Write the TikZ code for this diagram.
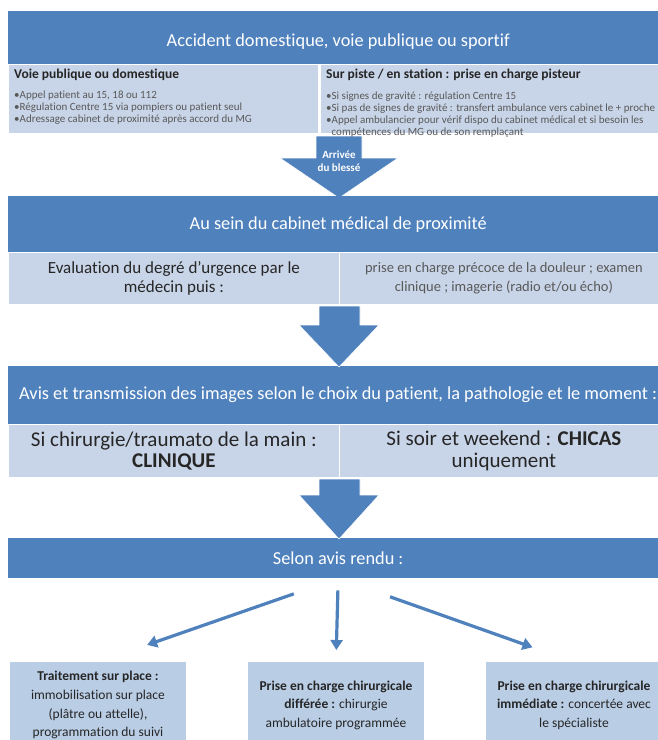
\documentclass[tikz,border=0pt]{standalone}
\usepackage{fontspec}
\setmainfont{Carlito}[Ligatures={TeX,NoCommon}]
\usetikzlibrary{positioning,arrows.meta}

\definecolor{barblue}{HTML}{4F81BD}
\definecolor{cellblue}{HTML}{C8D4E7}
\definecolor{boxblue}{HTML}{B9CDE5}
\definecolor{inkdark}{HTML}{262626}
\definecolor{inkgray}{HTML}{595959}

\tikzset{
  bar/.style={fill=barblue, text=white, anchor=north west, minimum width=660pt, inner sep=0pt, font=\fontsize{18.3}{22}\selectfont},
  cell/.style={fill=cellblue, draw=white, line width=0.8pt, anchor=north west, inner sep=0pt, align=center},
  resultbox/.style={fill=boxblue, minimum width=176pt, minimum height=86pt, anchor=north, inner sep=0pt, align=center, text=inkdark, font=\fontsize{13.5}{18.7}\selectfont},
  flow/.style={fill=barblue, draw=white, line width=0.6pt},
  link/.style={draw=barblue, line width=3.2pt, -{Triangle[width=12pt,length=10pt]}}
}

\begin{document}
\begin{tikzpicture}[x=1pt,y=-1pt]
\useasboundingbox (0,0) rectangle (657,740);

\node[bar, minimum height=53pt, text height=21pt, text depth=3pt] (accident) at (8,11) {Accident domestique, voie publique ou sportif};
\node[cell, minimum width=310pt, minimum height=69pt] (voie) at (8,64) {};
\node[cell, minimum width=348pt, minimum height=69pt] (piste) at (320,64) {};

\fill[flow] (316,136) -- (362,136) -- (362,158) -- (398,158) -- (339,198) -- (280,158) -- (316,158) -- cycle;
\node[text=white, align=center, font=\bfseries\fontsize{11}{12.5}\selectfont] (arrivee) at (339,161) {Arrivée\\du blessé};

\node[anchor=north west, inner sep=0pt, text=inkdark, font=\bfseries\fontsize{13.5}{15}\selectfont] (voiehead) at (14,69) {Voie publique ou domestique};
\node[below=10pt of voiehead.south west, anchor=north west, inner sep=0pt, align=left, text=inkgray, font=\fontsize{11}{12}\selectfont] (voielist) {\textbullet Appel patient au 15, 18 ou 112\\
\textbullet Régulation Centre 15 via pompiers ou patient seul\\
\textbullet Adressage cabinet de proximité après accord du MG};

\node[anchor=north west, inner sep=0pt, text=inkdark, font=\bfseries\fontsize{13.5}{15}\selectfont] (pistehead) at (326,69) {Sur piste / en station : prise en charge pisteur};
\node[below=10pt of pistehead.south west, anchor=north west, inner sep=0pt, align=left, text=inkgray, font=\fontsize{11}{12}\selectfont] (pistelist) {\textbullet Si signes de gravité : régulation Centre 15\\
\textbullet Si pas de signes de gravité : transfert ambulance vers cabinet le + proche\\
\textbullet Appel ambulancier pour vérif dispo du cabinet médical et si besoin les\\
\hphantom{\textbullet}compétences du MG ou de son remplaçant};

\node[bar, minimum height=56pt] (cabinet) at (8,196) {Au sein du cabinet médical de proximité};
\node[cell, minimum width=331pt, minimum height=52pt, text=inkdark, font=\fontsize{17}{18.5}\selectfont] (evaluation) at (8,252) {Evaluation du degré d'urgence par le\\médecin puis :};
\node[cell, minimum width=329pt, minimum height=52pt, text=inkgray, font=\fontsize{14.5}{18.5}\selectfont] (douleur) at (339,252) {prise en charge précoce de la douleur ; examen\\clinique ; imagerie (radio et/ou écho)};

\node[bar, minimum height=58pt] (avis) at (8,366) {Avis et transmission des images selon le choix du patient, la pathologie et le moment :};
\node[cell, minimum width=331pt, minimum height=53pt, text=inkdark, font=\fontsize{21}{21.5}\selectfont] (clinique) at (8,424) {Si chirurgie/traumato de la main :\\\textbf{CLINIQUE}};
\node[cell, minimum width=329pt, minimum height=53pt, text=inkdark, font=\fontsize{21}{21.5}\selectfont] (chicas) at (339,424) {Si soir et weekend : \textbf{CHICAS}\\uniquement};

\node[bar, minimum height=40pt] (selon) at (8,538) {Selon avis rendu :};

\fill[flow] (319,306) -- (360,306) -- (360,325) -- (379,325) -- (339,367) -- (299,325) -- (319,325) -- cycle;
\fill[flow] (319,479) -- (360,479) -- (360,495) -- (379,495) -- (339,539) -- (299,495) -- (319,495) -- cycle;

\node[resultbox] (surplace) at (98,662) {\textbf{Traitement sur place :}\\immobilisation sur place\\(plâtre ou attelle),\\programmation du suivi};
\node[resultbox] (differee) at (336,662) {\textbf{Prise en charge chirurgicale}\\\textbf{différée :} chirurgie\\ambulatoire programmée};
\node[resultbox] (immediate) at (574,662) {\textbf{Prise en charge chirurgicale}\\\textbf{immédiate :} concertée avec\\le spécialiste};

\draw[link, shorten <=47pt, shorten >=52pt] (selon.south) -- (surplace.north);
\draw[link, shorten <=12pt, shorten >=12pt] (selon.south) -- (differee.north);
\draw[link, shorten <=55pt, shorten >=44pt] (selon.south) -- (immediate.north);
\end{tikzpicture}
\end{document}
